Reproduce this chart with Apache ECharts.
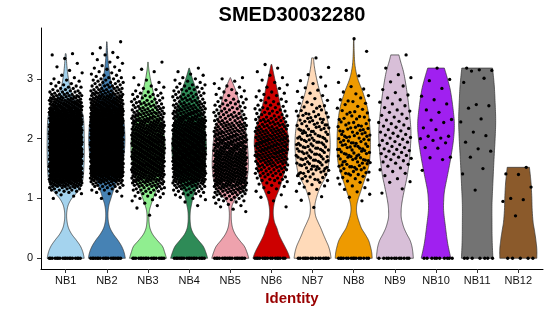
<!DOCTYPE html>
<html><head><meta charset="utf-8">
<script src="https://cdn.jsdelivr.net/npm/echarts@6/dist/echarts.min.js"></script>
<style>html,body{margin:0;padding:0;background:#fff}#c{width:550px;height:316px}</style>
</head><body><div id="c"></div>
<script>
const categories = ['NB1','NB2','NB3','NB4','NB5','NB6','NB7','NB8','NB9','NB10','NB11','NB12'];
const colors = ['#A4D3EE','#4682B4','#90EE90','#2E8B57','#EEA2AD','#CD0000','#FFDAB9','#EE9A00','#D8BFD8','#A020F0','#737373','#8B5A2B'];
const yTickValues = [0,1,2,3];
const titleText = 'SMED30032280';
const xTitle = 'Identity';

// number of cells with zero expression in each cluster
const zeroCells = [18,18,18,18,18,16,15,15,12,10,7,5];

// dense clusters: number of cells per expression level (levels 0.70, 0.72, 0.74, ... step 0.02)
const binStart = 0.70, binStep = 0.02;
const countsNB1 = [0,0,0,0,0,0,0,0,0,0,0,0,0,0,0,
1,0,1,1,1,2,2,3,3,4,
5,6,7,8,9,10,11,12,12,13,
13,13,14,14,14,14,14,15,14,14,
14,15,14,13,15,14,15,14,14,15,
14,14,15,14,13,15,14,14,15,14,
14,15,14,14,13,14,15,14,13,14,
14,13,14,13,13,12,13,12,12,12,
11,11,11,10,10,9,9,9,8,8,
7,7,6,6,5,5,4,4,3,3,
3,2,2,2,2,1,2,1,1,1,
1,1,0,1,0,1,0,1,0,0,
1,0,0,1,0,0,0,1,0,0,
1,1];
const countsNB2 = [0,0,0,0,0,0,0,0,0,0,0,0,0,0,0,
1,0,1,0,1,1,1,2,2,2,
3,3,4,4,5,6,7,8,9,10,
11,12,12,13,13,14,14,14,14,15,
14,15,14,15,14,14,15,14,15,14,
15,14,14,15,14,15,14,14,15,14,
14,15,14,14,15,14,14,15,14,14,
14,14,13,14,13,13,13,12,12,12,
12,11,11,11,10,10,9,9,9,8,
8,7,7,7,6,6,5,5,5,4,
4,4,3,3,3,3,2,3,2,2,
2,2,1,2,1,1,1,1,1,1,
1,1,0,1,1,0,1,0,1,0,
1,1,1,0,0,0,1,0,0,0,
0,1];
const countsNB3 = [0,1,0,0,0,0,0,1,0,1,0,1,0,1,1,
1,1,2,1,2,2,2,3,3,3,
3,4,4,5,5,5,6,6,6,7,
7,7,8,8,8,8,8,8,9,8,
8,8,8,9,8,8,8,8,9,8,
8,9,8,8,8,8,8,9,8,8,
8,8,8,7,8,7,7,7,7,7,
6,7,6,6,6,6,5,5,5,5,
4,5,4,4,4,3,4,3,3,3,
3,3,2,2,2,2,2,2,2,1,
1,1,1,1,1,1,0,1,0,1,
0,1,0,0,0,0,1,0,1,0,
0,0,0,0,1];
const countsNB4 = [0,0,0,0,0,0,0,0,0,1,0,0,1,0,1,
1,1,1,2,2,2,2,3,3,3,
4,4,5,5,6,6,7,7,7,8,
8,8,9,9,9,9,9,9,10,9,
9,9,9,10,9,9,9,9,10,9,
9,10,9,9,9,9,9,9,8,9,
9,8,8,9,8,8,8,8,8,7,
7,7,7,7,6,6,6,6,6,5,
5,5,5,5,5,4,4,4,4,4,
3,3,3,3,3,3,2,3,2,2,
2,2,2,2,1,2,1,1,1,1,
1,1,0,1,1,0,1,0,0,1];
const countsNB5 = [0,0,0,0,1,0,1,0,1,1,1,1,1,2,2,
2,2,3,3,3,4,4,4,5,5,
5,6,6,6,6,7,6,7,7,7,
7,7,7,7,7,7,7,7,7,7,
7,7,7,7,7,6,7,6,7,6,
6,6,6,6,6,6,6,5,5,6,
5,5,5,5,5,4,5,4,4,4,
4,4,4,4,3,3,3,3,3,3,
3,2,3,2,2,2,2,2,2,2,
2,2,1,2,1,1,1,1,1,1,
1,1,1,1,1,0,1,0,1,0,
1,1];
const countsNB6 = [0,0,0,0,0,0,0,0,1,0,0,0,0,1,0,
0,1,0,1,0,1,1,0,1,1,
1,1,1,2,1,2,2,2,2,2,
2,3,2,3,3,3,3,3,4,3,
4,4,4,4,4,5,4,5,4,5,
5,5,4,5,5,5,5,4,5,5,
5,4,5,4,4,4,4,4,4,3,
4,3,3,3,3,3,3,2,3,2,
2,2,2,2,2,2,2,1,2,1,
1,2,1,1,1,1,1,1,1,1,
1,0,1,1,0,1,0,1,0,1,
0,1,0,1,0,0,1,0,0,1,
0,0,1];

// sparser clusters: expression value of each non-zero cell
const ptsNB7 = [0.85,0.97,1.03,1.08,1.12,1.15,1.19,
1.21,1.23,1.25,1.27,1.29,
1.3,1.32,1.33,1.35,1.36,1.38,1.31,1.37,
1.4,1.41,1.43,1.44,1.45,1.47,1.48,1.42,1.46,1.49,1.41,
1.5,1.51,1.52,1.54,1.55,1.56,1.58,1.59,1.53,1.57,1.5,1.54,1.56,
1.6,1.61,1.63,1.64,1.65,1.66,1.68,1.69,1.62,1.67,1.61,1.64,1.66,
1.7,1.71,1.72,1.74,1.75,1.77,1.78,1.79,1.73,1.76,1.7,1.74,1.78,
1.8,1.81,1.83,1.84,1.85,1.86,1.88,1.89,1.82,1.87,1.81,1.84,1.86,
1.9,1.91,1.92,1.94,1.95,1.96,1.97,1.99,1.93,1.98,1.9,1.94,1.97,
2,2.01,2.03,2.04,2.05,2.07,2.08,2.09,2.02,2.06,2.01,2.05,
2.1,2.11,2.12,2.14,2.15,2.16,2.18,2.19,2.13,2.17,2.12,2.16,
2.2,2.21,2.23,2.24,2.25,2.27,2.28,2.22,2.26,2.29,2.23,
2.3,2.31,2.33,2.34,2.36,2.37,2.39,2.32,2.35,2.38,
2.4,2.42,2.43,2.45,2.47,2.48,2.41,2.46,
2.51,2.53,2.55,2.57,2.59,2.54,
2.61,2.64,2.67,2.69,2.72,2.76,2.79,2.81,2.85,2.88,2.92,2.97,3.03,3.07,3.19,3.35];
const ptsNB8 = [0.96,1.02,1.07,1.11,1.15,1.18,
1.21,1.24,1.27,1.29,
1.31,1.33,1.35,1.37,1.39,1.34,
1.4,1.42,1.43,1.45,1.46,1.48,1.41,1.44,1.49,
1.5,1.51,1.53,1.54,1.55,1.57,1.58,1.52,1.56,1.59,1.53,
1.6,1.61,1.62,1.64,1.65,1.66,1.68,1.69,1.63,1.67,1.61,1.65,
1.7,1.71,1.73,1.74,1.75,1.76,1.78,1.79,1.72,1.77,1.71,1.75,
1.8,1.81,1.82,1.84,1.85,1.87,1.88,1.89,1.83,1.86,1.82,1.87,
1.9,1.91,1.93,1.94,1.95,1.96,1.98,1.92,1.97,1.99,1.93,
2,2.01,2.02,2.04,2.05,2.07,2.08,2.03,2.06,2.09,2.04,
2.1,2.11,2.13,2.14,2.16,2.17,2.19,2.12,2.15,2.18,
2.2,2.22,2.23,2.25,2.27,2.28,2.21,2.26,
2.31,2.33,2.34,2.36,2.38,2.32,2.37,
2.41,2.43,2.45,2.47,2.49,2.44,
2.51,2.54,2.57,2.59,2.62,2.65,2.68,2.63,
2.72,2.75,2.78,2.83,2.87,2.94,3.05,3.14,3.46,3.67];
const ptsNB9 = [1.09,1.16,1.27,1.28,1.33,1.38,1.42,1.45,1.48,1.51,1.54,1.57,1.59,
1.61,1.63,1.65,1.67,1.69,1.7,1.72,1.74,1.75,1.77,1.79,
1.8,1.82,1.83,1.85,1.87,1.89,1.9,1.92,1.94,1.95,1.97,1.99,
2.01,2.02,2.04,2.06,2.07,2.09,2.11,2.13,2.15,2.17,2.19,
2.21,2.23,2.25,2.27,2.29,2.31,2.34,2.36,2.39,2.41,2.44,2.46,2.48,
2.52,2.55,2.58,2.61,2.65,2.68,2.73,2.77,2.82,2.88,2.95,3.02,3.07,3.18,3.4];
const ptsNB10 = [1.47,1.65,1.68,1.69,1.84,1.85,1.93,1.97,2,2.01,2.04,2.04,2.15,2.18,2.27,2.31,2.32,2.44,2.48,2.58,2.65,2.71,2.84,2.97,2.99,3.18];
const ptsNB11 = [1.14,1.41,1.5,1.69,1.79,1.83,1.94,2.05,2.11,2.28,2.33,2.51,2.55,2.57,2.94,3.01,3.13,3.14,3.15,3.18];
const ptsNB12 = [0.71,0.95,0.98,1,1.19,1.4,1.41,1.52];

// violin outlines: [expression, relative width]
const vlnNB1 = [[0,1],[0.1,0.93],[0.2,0.8],[0.3,0.58],[0.4,0.33],[0.5,0.16],[0.6,0.08],[0.7,0.05],[0.8,0.07],[0.9,0.15],[1.0,0.33],[1.1,0.6],[1.25,0.88],[1.5,0.98],[2.0,1],[2.4,0.93],[2.6,0.6],[2.8,0.3],[3.0,0.15],[3.2,0.07],[3.42,0.02]];
const vlnNB2 = [[0,1],[0.1,0.93],[0.2,0.8],[0.3,0.6],[0.4,0.36],[0.5,0.18],[0.6,0.09],[0.7,0.06],[0.8,0.07],[0.9,0.12],[1.0,0.22],[1.1,0.32],[1.25,0.5],[1.5,0.8],[1.8,0.95],[2.1,0.97],[2.4,0.85],[2.7,0.45],[3.0,0.2],[3.3,0.07],[3.62,0.01]];
const vlnNB3 = [[0,1],[0.1,0.9],[0.2,0.78],[0.3,0.5],[0.4,0.25],[0.5,0.11],[0.6,0.06],[0.7,0.05],[0.8,0.08],[0.9,0.17],[1.0,0.28],[1.1,0.4],[1.3,0.62],[1.6,0.85],[1.9,0.92],[2.2,0.8],[2.5,0.5],[2.8,0.27],[3.0,0.13],[3.15,0.05],[3.28,0.01]];
const vlnNB4 = [[0,1],[0.1,0.9],[0.2,0.76],[0.3,0.5],[0.4,0.25],[0.5,0.11],[0.6,0.06],[0.7,0.05],[0.8,0.07],[0.9,0.13],[1.0,0.2],[1.1,0.3],[1.25,0.5],[1.5,0.8],[1.8,0.93],[2.1,0.88],[2.4,0.7],[2.6,0.55],[2.8,0.4],[3.0,0.18],[3.18,0.01]];
const vlnNB5 = [[0,1],[0.1,0.9],[0.2,0.76],[0.3,0.5],[0.4,0.27],[0.5,0.13],[0.6,0.07],[0.7,0.05],[0.8,0.06],[0.9,0.12],[1.0,0.3],[1.1,0.6],[1.25,0.85],[1.5,0.97],[1.8,0.95],[2.1,0.85],[2.4,0.6],[2.6,0.48],[2.8,0.3],[3.02,0.01]];
const vlnNB6 = [[0,1],[0.1,0.88],[0.2,0.72],[0.3,0.55],[0.4,0.4],[0.5,0.3],[0.6,0.17],[0.7,0.11],[0.8,0.1],[0.9,0.14],[1.0,0.22],[1.2,0.47],[1.5,0.75],[1.8,0.9],[2.0,0.92],[2.2,0.8],[2.5,0.52],[2.8,0.33],[3.0,0.18],[3.24,0.02]];
const vlnNB7 = [[0,1],[0.1,0.95],[0.2,0.86],[0.3,0.72],[0.4,0.58],[0.5,0.45],[0.6,0.3],[0.7,0.17],[0.8,0.12],[0.9,0.13],[1.0,0.2],[1.1,0.3],[1.2,0.43],[1.4,0.75],[1.6,0.88],[1.9,0.95],[2.2,0.88],[2.5,0.65],[2.77,0.4],[3.0,0.22],[3.2,0.1],[3.35,0.05]];
const vlnNB8 = [[0,1],[0.1,0.97],[0.2,0.9],[0.3,0.8],[0.4,0.62],[0.5,0.42],[0.6,0.3],[0.7,0.2],[0.8,0.15],[0.9,0.17],[1.0,0.25],[1.1,0.36],[1.25,0.52],[1.4,0.68],[1.6,0.85],[1.9,0.9],[2.2,0.87],[2.5,0.75],[2.77,0.5],[3.0,0.22],[3.2,0.08],[3.4,0.03],[3.67,0.01]];
const vlnNB9 = [[0,1],[0.1,0.97],[0.2,0.92],[0.3,0.82],[0.4,0.65],[0.5,0.5],[0.6,0.4],[0.7,0.34],[0.85,0.35],[1.0,0.42],[1.2,0.55],[1.4,0.68],[1.7,0.8],[2.05,0.87],[2.3,0.83],[2.6,0.73],[2.85,0.62],[3.1,0.48],[3.3,0.3],[3.4,0.22]];
const vlnNB10 = [[0,0.8],[0.25,0.63],[0.55,0.5],[0.8,0.41],[1.0,0.42],[1.15,0.47],[1.4,0.63],[1.7,0.81],[2.0,0.95],[2.25,0.99],[2.5,0.92],[2.8,0.78],[3.0,0.62],[3.18,0.45]];
const vlnNB11 = [[0,0.85],[0.3,0.81],[0.6,0.8],[0.9,0.8],[1.2,0.84],[1.6,0.9],[2.0,0.97],[2.3,1],[2.6,0.97],[2.9,0.92],[3.18,0.83]];
const vlnNB12 = [[0,1],[0.15,1],[0.3,0.95],[0.45,0.88],[0.6,0.8],[0.8,0.75],[1.0,0.73],[1.2,0.7],[1.35,0.66],[1.52,0.6]];

const violins = [vlnNB1,vlnNB2,vlnNB3,vlnNB4,vlnNB5,vlnNB6,vlnNB7,vlnNB8,vlnNB9,vlnNB10,vlnNB11,vlnNB12];

function expandCounts(counts){
  const out = [];
  counts.forEach((n, k) => {
    const v = Math.round((binStart + k*binStep)*100)/100;
    for (let m = 0; m < n; m++) out.push(v);
  });
  return out;
}
const nonZero = [
  expandCounts(countsNB1), expandCounts(countsNB2), expandCounts(countsNB3),
  expandCounts(countsNB4), expandCounts(countsNB5), expandCounts(countsNB6),
  ptsNB7, ptsNB8, ptsNB9, ptsNB10, ptsNB11, ptsNB12
];
const points = nonZero.map((arr, i) => new Array(zeroCells[i]).fill(0).concat(arr));

const FONT = '"Liberation Sans", Arial, Helvetica, sans-serif';

function smoothProfile(prof){
  const out = [];
  const n = prof.length;
  const f = (a,b,c,d,t) => { const t2=t*t,t3=t2*t; return 0.5*((2*b)+(-a+c)*t+(2*a-5*b+4*c-d)*t2+(-a+3*b-3*c+d)*t3); };
  for (let i = 0; i < n-1; i++) {
    const p0 = prof[Math.max(i-1,0)], p1 = prof[i], p2 = prof[i+1], p3 = prof[Math.min(i+2,n-1)];
    for (let s = 0; s < 8; s++) {
      const t = s/8;
      out.push([f(p0[0],p1[0],p2[0],p3[0],t), Math.max(0, f(p0[1],p1[1],p2[1],p3[1],t))]);
    }
  }
  out.push(prof[n-1]);
  return out;
}

const violinData = categories.map((c,i) => [i+1, 0]);
const scatterData = [];
points.forEach((arr, ci) => {
  arr.forEach((v, j) => {
    const u = (j*0.6180339887 + ci*0.2113) % 1;
    scatterData.push([ci + 1 + (u - 0.5) * 0.8, v]);
  });
});
const xTickValues = categories.map((c,i) => i+1);

const chart = echarts.init(document.getElementById('c'), null, {renderer:'canvas'});
chart.setOption({
  animation: false,
  backgroundColor: '#fff',
  graphic: [{
    type: 'text', x: 292, y: 15,
    style: {text: titleText, font: 'bold 20px ' + FONT, fill: '#000', align: 'center', verticalAlign: 'middle'}
  }],
  grid: {left: 41, top: 28, width: 502, height: 241},
  xAxis: {
    type: 'value', min: 0.4, max: 12.6,
    axisLine: {show: true, onZero: false, lineStyle: {color: '#000', width: 1}},
    axisTick: {show: true, customValues: xTickValues, length: 4, lineStyle: {color: '#333', width: 1}},
    axisLabel: {show: true, customValues: xTickValues, formatter: v => categories[Math.round(v)-1], color: '#111', fontSize: 11, fontFamily: FONT, margin: 6},
    splitLine: {show: false},
    name: xTitle, nameLocation: 'middle', nameGap: 21,
    nameTextStyle: {color: '#990000', fontSize: 15, fontWeight: 'bold', fontFamily: FONT}
  },
  yAxis: {
    type: 'value', min: -0.18, max: 3.85,
    axisLine: {show: true, onZero: false, lineStyle: {color: '#000', width: 1}},
    axisTick: {show: true, customValues: yTickValues, length: 4, lineStyle: {color: '#333', width: 1}},
    axisLabel: {show: true, customValues: yTickValues, color: '#111', fontSize: 11, fontFamily: FONT, margin: 8},
    splitLine: {show: false}
  },
  series: [
    {
      type: 'custom', data: violinData, z: 2, silent: true,
      renderItem: (params, api) => {
        const i = params.dataIndex;
        const cx = i + 1;
        const prof = smoothProfile(violins[i]);
        const half = 0.45;
        const right = prof.map(p => api.coord([cx + p[1]*half, p[0]]));
        const left = prof.slice().reverse().map(p => api.coord([cx - p[1]*half, p[0]]));
        return {type: 'polygon', shape: {points: right.concat(left)},
          style: {fill: colors[i], stroke: '#333', lineWidth: 0.7}};
      }
    },
    {
      type: 'scatter', data: scatterData, z: 3, silent: true,
      symbol: 'circle', symbolSize: 3.3, large: false, progressive: 0,
      itemStyle: {color: '#000', opacity: 1}
    }
  ]
});
</script></body></html>
